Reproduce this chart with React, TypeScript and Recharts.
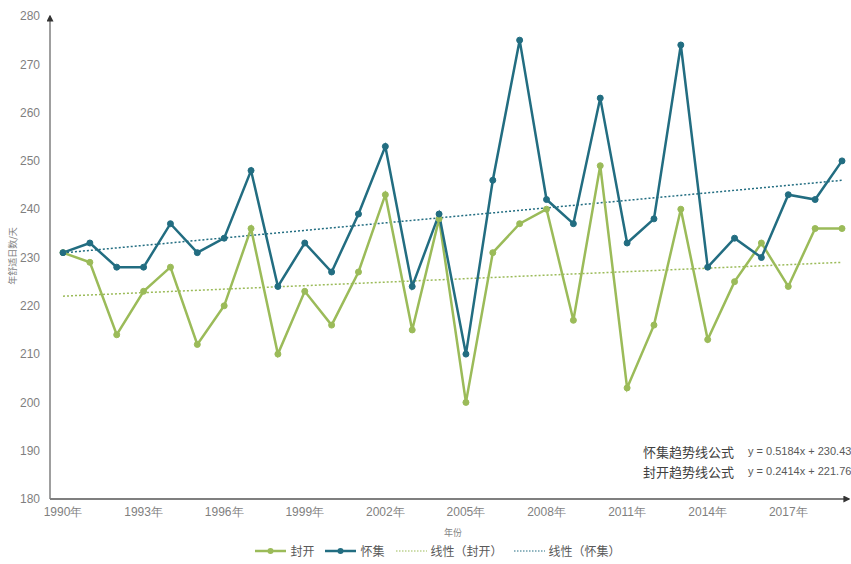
import React from 'react';
import { LineChart, Line, XAxis, YAxis, Legend } from 'recharts';

const years = [
  '1990年', '1991年', '1992年', '1993年', '1994年', '1995年', '1996年', '1997年', '1998年', '1999年',
  '2000年', '2001年', '2002年', '2003年', '2004年', '2005年', '2006年', '2007年', '2008年', '2009年',
  '2010年', '2011年', '2012年', '2013年', '2014年', '2015年', '2016年', '2017年', '2018年', '2019年',
];
const fengkai = [231, 229, 214, 223, 228, 212, 220, 236, 210, 223, 216, 227, 243, 215, 238, 200, 231, 237, 240, 217, 249, 203, 216, 240, 213, 225, 233, 224, 236, 236];
const huaiji = [231, 233, 228, 228, 237, 231, 234, 248, 224, 233, 227, 239, 253, 224, 239, 210, 246, 275, 242, 237, 263, 233, 238, 274, 228, 234, 230, 243, 242, 250];
// trend line values at first and last year (from the displayed formulas)
const fengkaiTrend = [222.0, 229.0];
const huaijiTrend = [230.95, 245.98];
const yTicks = [180, 190, 200, 210, 220, 230, 240, 250, 260, 270, 280];

const GREEN = '#9BBB59';
const BLUE = '#226D81';

const last = years.length - 1;
const data = years.map((y, i) => ({
  year: y,
  fk: fengkai[i],
  hj: huaiji[i],
  fkT: i === 0 ? fengkaiTrend[0] : i === last ? fengkaiTrend[1] : null,
  hjT: i === 0 ? huaijiTrend[0] : i === last ? huaijiTrend[1] : null,
}));

const LegendIcon = ({ color, dotted }: { color: string; dotted?: boolean }) => (
  <svg width={31} height={10} style={{ marginRight: 4 }}>
    {dotted ? (
      <line x1={0} y1={5} x2={31} y2={5} stroke={color} strokeWidth={1.2} strokeDasharray="1.5 1.5" />
    ) : (
      <>
        <line x1={0} y1={5} x2={31} y2={5} stroke={color} strokeWidth={2.5} />
        <circle cx={15.5} cy={5} r={3} fill={color} />
      </>
    )}
  </svg>
);

const legendItems = [
  { label: '封开', color: GREEN, dotted: false },
  { label: '怀集', color: BLUE, dotted: false },
  { label: '线性（封开）', color: GREEN, dotted: true },
  { label: '线性（怀集）', color: BLUE, dotted: true },
];

const renderLegend = () => (
  <div
    style={{
      height: 35,
      display: 'flex',
      justifyContent: 'center',
      alignItems: 'center',
      paddingTop: 8,
      boxSizing: 'border-box',
      paddingLeft: 38,
      fontFamily: '"Noto Sans CJK SC", sans-serif',
      fontSize: 12,
      color: '#595959',
    }}
  >
    {legendItems.map((it) => (
      <div key={it.label} style={{ display: 'flex', alignItems: 'center', marginRight: 11 }}>
        <LegendIcon color={it.color} dotted={it.dotted} />
        <span>{it.label}</span>
      </div>
    ))}
  </div>
);

export default function App() {
  return (
    <div style={{ position: 'absolute', left: 0, top: 0, width: 851, height: 564, background: '#fff' }}>
      <svg width={0} height={0} style={{ position: 'absolute' }}>
        <defs>
          <marker
            id="axisArrow"
            viewBox="0 0 10 10"
            refX={8}
            refY={5}
            markerWidth={7}
            markerHeight={7}
            markerUnits="userSpaceOnUse"
            orient="auto-start-reverse"
          >
            <path d="M0,0 L10,5 L0,10 z" fill="#333" />
          </marker>
        </defs>
      </svg>
      <LineChart
        width={851}
        height={564}
        data={data}
        margin={{ top: 16, right: 2, left: 0, bottom: 0 }}
      >
        <XAxis
          dataKey="year"
          interval={2}
          tickLine={false}
          tickSize={0}
          tickMargin={8}
          height={30}
          padding={{ left: 13, right: 7 }}
          axisLine={{ stroke: '#7f7f7f', strokeWidth: 2, markerEnd: 'url(#axisArrow)' } as any}
          tick={{ fill: '#7f7f7f', fontSize: 12, fontFamily: '"Liberation Sans", sans-serif' }}
        />
        <YAxis
          width={50}
          domain={[180, 280]}
          ticks={yTicks}
          interval={0}
          tickLine={false}
          tickSize={0}
          tickMargin={10}
          axisLine={{ stroke: '#7f7f7f', strokeWidth: 1.5, markerStart: 'url(#axisArrow)' } as any}
          tick={{ fill: '#7f7f7f', fontSize: 12, fontFamily: '"Liberation Sans", sans-serif' }}
        />
        <Legend verticalAlign="bottom" height={35} content={renderLegend} />
        <Line
          dataKey="fkT"
          stroke={GREEN}
          strokeWidth={1.5}
          strokeDasharray="2 2"
          dot={false}
          activeDot={false}
          connectNulls
          isAnimationActive={false}
          legendType="none"
        />
        <Line
          dataKey="hjT"
          stroke={BLUE}
          strokeWidth={1.5}
          strokeDasharray="2 2"
          dot={false}
          activeDot={false}
          connectNulls
          isAnimationActive={false}
          legendType="none"
        />
        <Line
          dataKey="fk"
          name="封开"
          stroke={GREEN}
          strokeWidth={2.5}
          dot={{ r: 3, fill: GREEN, stroke: GREEN, strokeWidth: 1 }}
          isAnimationActive={false}
        />
        <Line
          dataKey="hj"
          name="怀集"
          stroke={BLUE}
          strokeWidth={2.5}
          dot={{ r: 3, fill: BLUE, stroke: BLUE, strokeWidth: 1 }}
          isAnimationActive={false}
        />
        <text
          x={12}
          y={256}
          transform="rotate(-90 12 256)"
          textAnchor="middle"
          dominantBaseline="central"
          fontSize={9}
          fill="#7f7f7f"
          fontFamily='"Noto Sans CJK SC", sans-serif'
        >
          年舒适日数/天
        </text>
        <text
          x={453}
          y={532}
          textAnchor="middle"
          dominantBaseline="central"
          fontSize={9}
          fill="#7f7f7f"
          fontFamily='"Noto Sans CJK SC", sans-serif'
        >
          年份
        </text>
        <text x={643} y={451} dominantBaseline="central" fontSize={13} fill="#404040" fontFamily='"Noto Sans CJK SC", sans-serif'>
          怀集趋势线公式
        </text>
        <text x={748} y={451} dominantBaseline="central" fontSize={11} fill="#595959" fontFamily='"Liberation Sans", sans-serif'>
          y = 0.5184x + 230.43
        </text>
        <text x={643} y={471} dominantBaseline="central" fontSize={13} fill="#404040" fontFamily='"Noto Sans CJK SC", sans-serif'>
          封开趋势线公式
        </text>
        <text x={748} y={471} dominantBaseline="central" fontSize={11} fill="#595959" fontFamily='"Liberation Sans", sans-serif'>
          y = 0.2414x + 221.76
        </text>
      </LineChart>
    </div>
  );
}
